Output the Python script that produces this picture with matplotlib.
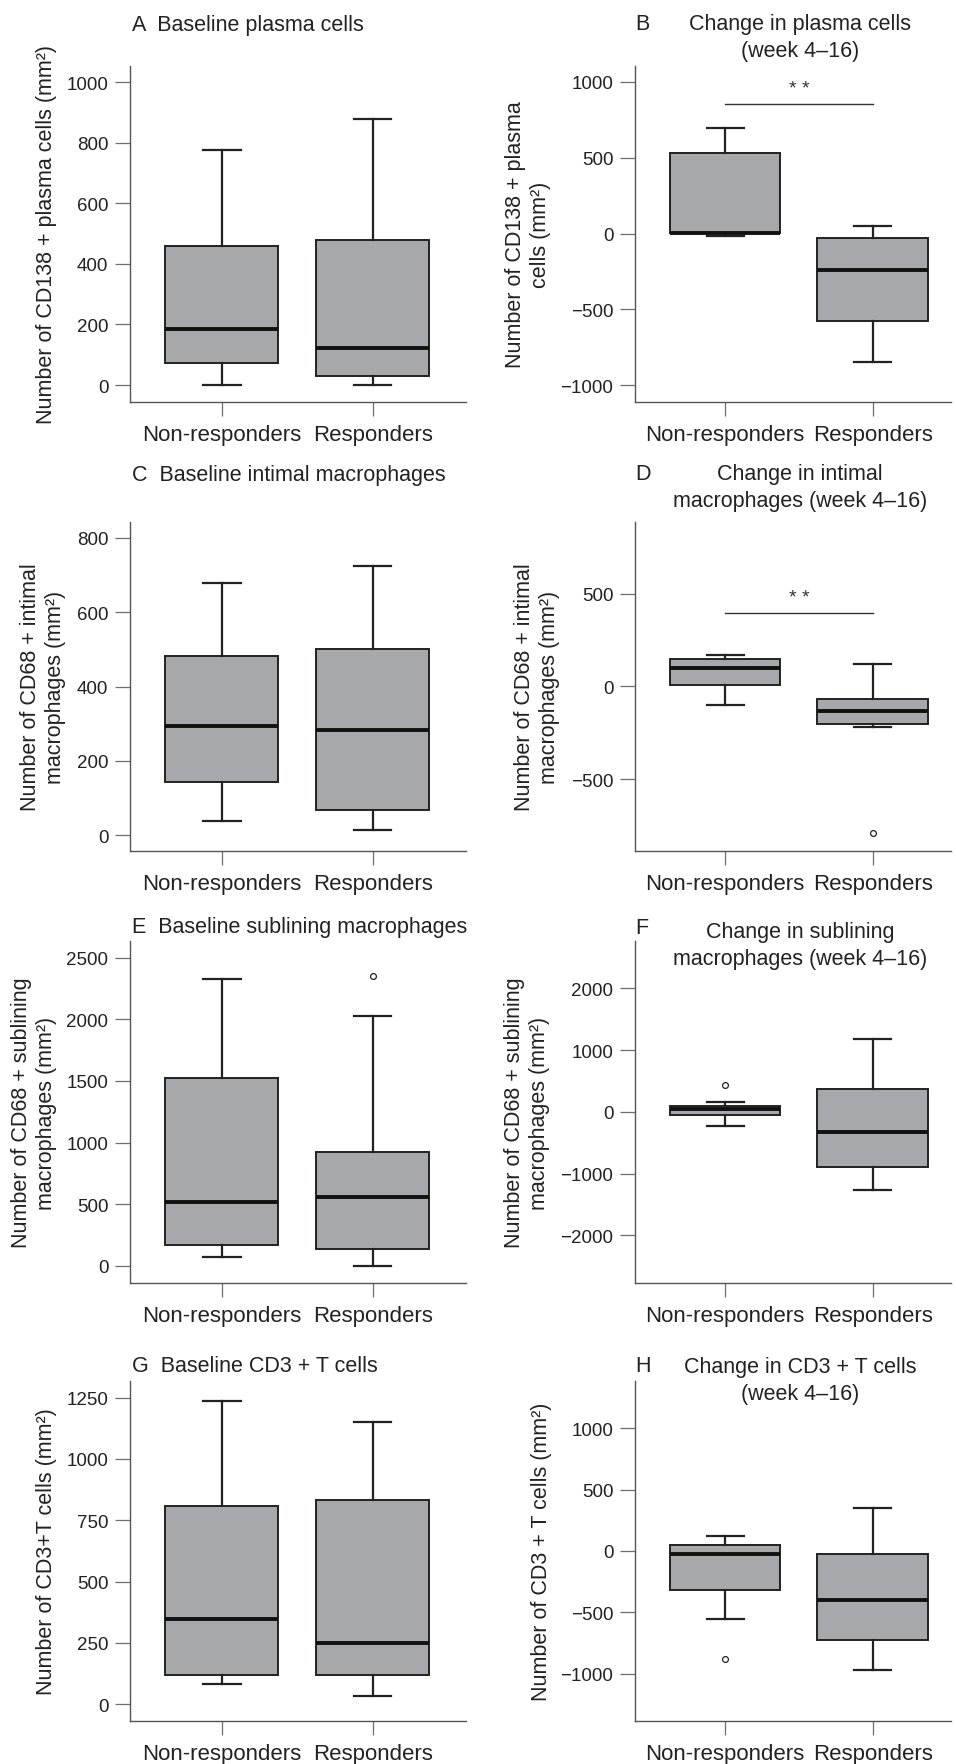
import matplotlib.pyplot as plt

plt.rcParams['font.family'] = ['Liberation Sans', 'DejaVu Sans']

groups = ["Non-responders", "Responders"]

# [whisker low, Q1, median, Q3, whisker high] for each group
plasma_base = [[0, 74, 184, 458, 776], [0, 31, 121, 480, 879]]
plasma_change = [[-18, 4, 6, 532, 699], [-848, -576, -242, -26, 53]]
intimal_base = [[38, 143, 293, 483, 680], [14, 67, 282, 500, 725]]
intimal_change = [[-103, 7, 97, 146, 169], [-219, -205, -131, -67, 119]]
subl_base = [[76, 170, 518, 1528, 2330], [3, 138, 559, 926, 2030]]
subl_change = [[-231, -55, 44, 93, 159], [-1269, -896, -324, 368, 1181]]
tcell_base = [[80, 118, 348, 808, 1236], [34, 118, 248, 831, 1149]]
tcell_change = [[-557, -321, -22, 49, 120], [-973, -728, -397, -27, 348]]

# outliers per group
intimal_change_out = [[], [-791]]
subl_base_out = [[], [2349]]
subl_change_out = [[429], []]
tcell_change_out = [[-883], []]

W, H = 956, 1765
fig = plt.figure(figsize=(W / 100, H / 100), dpi=100)

BOX = '#a7a8ac'
DARK = '#222222'
GREY = '#6e6e6e'
FS = 15.5

# (letter, title, ylabel, stats, fliers, yticks, ylim, sig_y, star_y, col, row)
panels = [
    ("A", "Baseline plasma cells", "Number of CD138 + plasma cells (mm²)",
     plasma_base, [[], []], [0, 200, 400, 600, 800, 1000], (-56, 1053), None, None, 0, 0),
    ("B", "Change in plasma cells\n(week 4–16)", "Number of CD138 + plasma\ncells (mm²)",
     plasma_change, [[], []], [-1000, -500, 0, 500, 1000], (-1110, 1105), 857, 955, 1, 0),
    ("C", "Baseline intimal macrophages", "Number of CD68 + intimal\nmacrophages (mm²)",
     intimal_base, [[], []], [0, 200, 400, 600, 800], (-43, 843), None, None, 0, 1),
    ("D", "Change in intimal\nmacrophages (week 4–16)", "Number of CD68 + intimal\nmacrophages (mm²)",
     intimal_change, intimal_change_out, [-500, 0, 500], (-888, 887), 397, 482, 1, 1),
    ("E", "Baseline sublining macrophages", "Number of CD68 + sublining\nmacrophages (mm²)",
     subl_base, subl_base_out, [0, 500, 1000, 1500, 2000, 2500], (-138, 2635), None, None, 0, 2),
    ("F", "Change in sublining\nmacrophages (week 4–16)", "Number of CD68 + sublining\nmacrophages (mm²)",
     subl_change, subl_change_out, [-2000, -1000, 0, 1000, 2000], (-2775, 2769), None, None, 1, 2),
    ("G", "Baseline CD3 + T cells", "Number of CD3+T cells (mm²)",
     tcell_base, [[], []], [0, 250, 500, 750, 1000, 1250], (-69, 1318), None, None, 0, 3),
    ("H", "Change in CD3 + T cells\n(week 4–16)", "Number of CD3 + T cells (mm²)",
     tcell_change, tcell_change_out, [-1000, -500, 0, 500, 1000], (-1386, 1386), None, None, 1, 3),
]

rows_px = [(67, 403), (523, 852), (942, 1284), (1382, 1722)]
cols_px = [(130, 466), (635, 951)]
xlims = [(0.39, 2.62), (0.39, 2.53)]
title_y = [(25, 38), (475, 488), (928, 946), (1367, 1381)]
ylabel_x = [[47, 43, 34, 47], [528, 537, 527, 541]]

for letter, title, ylabel, stats, fliers, yticks, ylim, sig_y, star_y, col, row in panels:
    x0, x1 = cols_px[col]
    y0, y1 = rows_px[row]
    ax = fig.add_axes([x0 / W, 1 - y1 / H, (x1 - x0) / W, (y1 - y0) / H])

    bstats = []
    for g, s, fl in zip(groups, stats, fliers):
        bstats.append(dict(label=g, whislo=s[0], q1=s[1], med=s[2], q3=s[3],
                           whishi=s[4], fliers=fl))
    ax.bxp(bstats, positions=[1, 2], widths=0.75, patch_artist=True,
           boxprops=dict(facecolor=BOX, edgecolor=DARK, linewidth=1.4),
           medianprops=dict(color='#111111', linewidth=2.8),
           whiskerprops=dict(color=DARK, linewidth=1.6),
           capprops=dict(color=DARK, linewidth=1.6),
           capwidths=0.25,
           flierprops=dict(marker='o', markersize=4.2, markerfacecolor='white',
                           markeredgecolor=DARK, markeredgewidth=0.9))

    ax.set_xlim(*xlims[col])
    ax.set_ylim(*ylim)
    ax.set_yticks(yticks)
    ax.set_xticks([1, 2])
    ax.set_xticklabels(groups, fontsize=16, color='#222222')
    ax.tick_params(axis='y', length=10.5, width=0.9, color=GREY, labelsize=13.5,
                   labelcolor='#222222', pad=5)
    ax.tick_params(axis='x', length=10, width=0.9, color=GREY, pad=6)
    for side in ['top', 'right']:
        ax.spines[side].set_visible(False)
    for side in ['left', 'bottom']:
        ax.spines[side].set_color('#555555')
        ax.spines[side].set_linewidth(1.0)

    if sig_y is not None:
        ax.plot([1, 2], [sig_y, sig_y], color='#333333', linewidth=1.0)
        ax.text(1.5, star_y, "* *", ha='center', va='center', fontsize=14,
                color='#333333')

    ty_left, ty_right = title_y[row]
    if col == 0:
        fig.text(132 / W, 1 - ty_left / H, letter + "  " + title, ha='left',
                 va='center', fontsize=FS, color='#222222')
    else:
        fig.text(635 / W, 1 - ty_left / H, letter, ha='left', va='center',
                 fontsize=FS, color='#222222')
        fig.text(800 / W, 1 - ty_right / H, title, ha='center', va='center',
                 fontsize=FS, color='#222222', linespacing=1.35)

    fig.text(ylabel_x[col][row] / W, 1 - ((y0 + y1) / 2) / H, ylabel,
             rotation=90, ha='center', va='center', fontsize=FS,
             color='#222222', linespacing=1.3)

fig.savefig('out.png', dpi=100, facecolor='white')
